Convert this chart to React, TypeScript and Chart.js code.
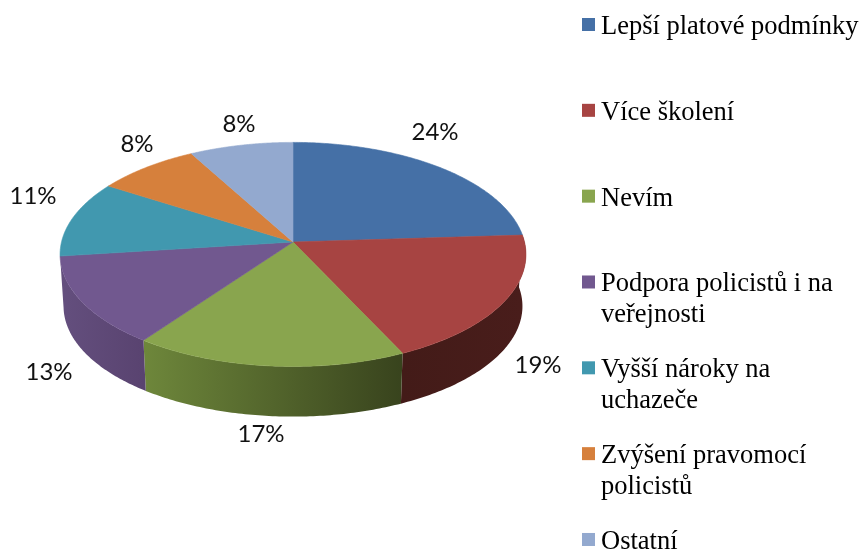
import React, { useEffect, useRef } from "react";
import { Chart, registerables } from "chart.js";

Chart.register(...registerables);

// ---- data ----
const categories = [
  "Lepší platové podmínky",
  "Více školení",
  "Nevím",
  "Podpora policistů i na veřejnosti",
  "Vyšší nároky na uchazeče",
  "Zvýšení pravomocí policistů",
  "Ostatní",
];
const shares = [24, 19, 17, 13, 11, 8, 8];
const legendLines = [
  ["Lepší platové podmínky"],
  ["Více školení"],
  ["Nevím"],
  ["Podpora policistů i na", "veřejnosti"],
  ["Vyšší nároky na", "uchazeče"],
  ["Zvýšení pravomocí", "policistů"],
  ["Ostatní"],
];

// ---- styles ----
const topColors = ["#4570A6", "#A74442", "#89A54E", "#71588F", "#4198AF", "#D6803C", "#93A9CF"];
const wallColors: Record<number, [string, string]> = {
  1: ["#431B18", "#491D1B"],
  2: ["#6E873B", "#38431D"],
  3: ["#644F7E", "#594370"],
};
const labelCentres = [
  [435, 132],
  [538, 365],
  [261, 434],
  [49, 372],
  [33, 196],
  [137, 144],
  [239, 124],
];

// ---- 3D projection of the library's arcs ----
const PERSPECTIVE = 0.111;
const TILT = 0.478;
const WALL_DROP = 52;
const WALL_SHRINK = 0.985;
const WALL_FROM = (-3.7 * Math.PI) / 180;
const WALL_TO = (173 * Math.PI) / 180;

function project(cx: number, cy: number, r: number, angle: number) {
  const u = Math.cos(angle);
  const v = Math.sin(angle);
  const k = 1 / (1 - PERSPECTIVE * v);
  return { x: cx + r * u * k, y: cy + r * TILT * v * k };
}
function projectLow(cx: number, cy: number, r: number, angle: number) {
  const p = project(cx, cy, r, angle);
  return {
    x: cx + (p.x - cx) * WALL_SHRINK,
    y: cy + WALL_DROP + (p.y - cy) * WALL_SHRINK,
  };
}

const pie3d = {
  id: "pie3d",
  beforeDatasetsDraw(chart: any) {
    const ctx = chart.ctx as CanvasRenderingContext2D;
    const arcs = chart.getDatasetMeta(0).data as any[];
    // side walls
    arcs.forEach((arc, i) => {
      const { x: cx, y: cy, outerRadius: r, startAngle, endAngle } = arc.getProps(
        ["x", "y", "outerRadius", "startAngle", "endAngle"],
        true,
      );
      const from = Math.max(startAngle, WALL_FROM);
      const to = Math.min(endAngle, WALL_TO);
      if (to - from < 0.02 || !wallColors[i]) return;
      const steps = 80;
      const a = project(cx, cy, r, from);
      const b = project(cx, cy, r, to);
      const left = Math.min(a.x, b.x);
      const right = Math.max(a.x, b.x);
      const grad = ctx.createLinearGradient(left, 0, right, 0);
      grad.addColorStop(0, wallColors[i][0]);
      grad.addColorStop(1, wallColors[i][1]);
      ctx.beginPath();
      for (let s = 0; s <= steps; s++) {
        const p = project(cx, cy, r, from + ((to - from) * s) / steps);
        if (s === 0) ctx.moveTo(p.x, p.y);
        else ctx.lineTo(p.x, p.y);
      }
      for (let s = steps; s >= 0; s--) {
        const p = projectLow(cx, cy, r, from + ((to - from) * s) / steps);
        ctx.lineTo(p.x, p.y);
      }
      ctx.closePath();
      ctx.fillStyle = grad;
      ctx.fill();
    });
    // top faces
    arcs.forEach((arc, i) => {
      const { x: cx, y: cy, outerRadius: r, startAngle, endAngle } = arc.getProps(
        ["x", "y", "outerRadius", "startAngle", "endAngle"],
        true,
      );
      const steps = 120;
      ctx.beginPath();
      ctx.moveTo(cx, cy);
      for (let s = 0; s <= steps; s++) {
        const p = project(cx, cy, r, startAngle + ((endAngle - startAngle) * s) / steps);
        ctx.lineTo(p.x, p.y);
      }
      ctx.closePath();
      ctx.fillStyle = topColors[i];
      ctx.strokeStyle = topColors[i];
      ctx.lineWidth = 0.6;
      ctx.fill();
      ctx.stroke();
    });
    return false;
  },
  afterDraw(chart: any) {
    const ctx = chart.ctx as CanvasRenderingContext2D;
    ctx.save();
    // value labels
    ctx.font = '24px Lato';
    ctx.fillStyle = "#111111";
    ctx.textAlign = "center";
    ctx.textBaseline = "middle";
    (chart.data.datasets[0].data as number[]).forEach((value, i) => {
      ctx.fillText(`${value}%`, labelCentres[i][0], labelCentres[i][1]);
    });
    // legend
    ctx.font = '26.5px "Liberation Serif"';
    ctx.textAlign = "left";
    ctx.textBaseline = "alphabetic";
    legendLines.forEach((lines, i) => {
      const baseline = 33 + i * 85.83;
      ctx.fillStyle = topColors[i];
      ctx.fillRect(582, baseline - 15, 13, 13);
      ctx.fillStyle = "#000000";
      lines.forEach((line, j) => ctx.fillText(line, 601, baseline + 1 + j * 30.7));
    });
    ctx.restore();
  },
};

export default function App() {
  const ref = useRef<HTMLCanvasElement>(null);
  useEffect(() => {
    if (!ref.current) return;
    const chart = new Chart(ref.current, {
      type: "pie",
      data: {
        labels: categories,
        datasets: [{ data: shares, backgroundColor: topColors, borderWidth: 0 }],
      },
      options: {
        responsive: false,
        animation: false,
        layout: { padding: { left: 61.5, right: 335.5, top: 10.5, bottom: 78.5 } },
        plugins: { legend: { display: false }, tooltip: { enabled: false }, title: { display: false } },
      },
      plugins: [pie3d],
    });
    return () => chart.destroy();
  }, []);
  return (
    <canvas
      ref={ref}
      width={860}
      height={552}
      style={{ position: "fixed", left: 0, top: 0, display: "block", background: "#ffffff" }}
    />
  );
}
